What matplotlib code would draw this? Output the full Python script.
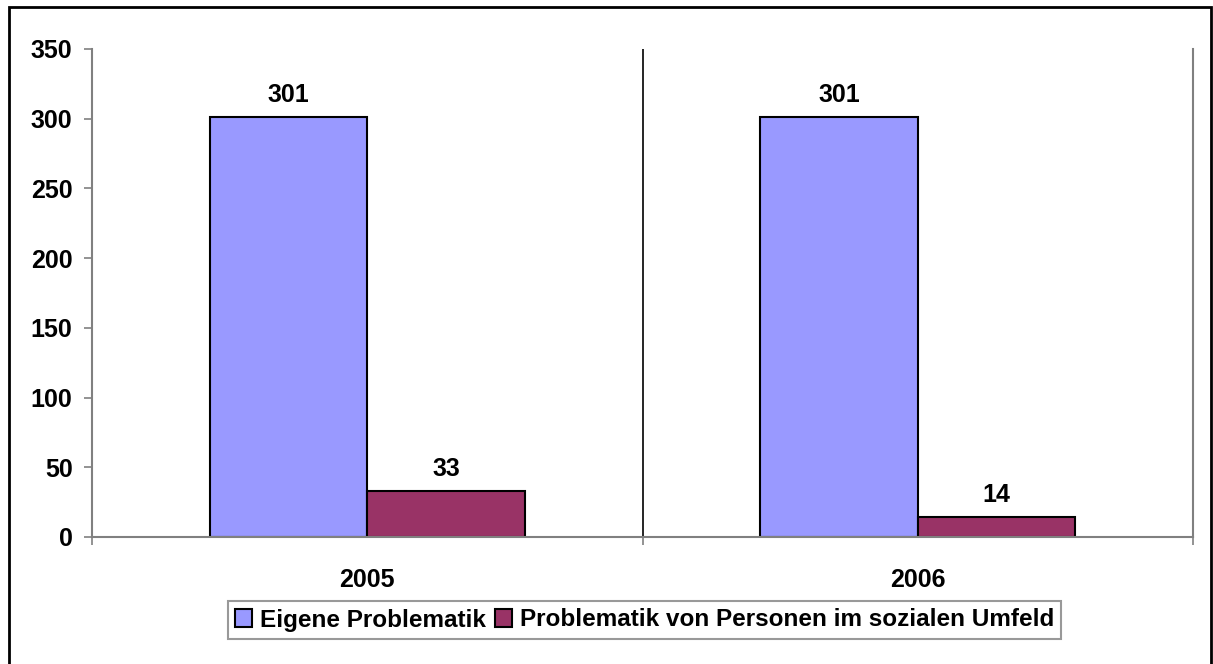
import numpy as np
import matplotlib.pyplot as plt
from matplotlib.patches import Rectangle

plt.rcParams['font.family'] = ['Liberation Sans', 'DejaVu Sans']
plt.rcParams['font.weight'] = 'bold'

# Daten
jahre = ['2005', '2006']
eigene = [301, 301]
umfeld = [33, 14]
serien = ['Eigene Problematik', 'Problematik von Personen im sozialen Umfeld']
farben = ['#9999FF', '#993366']

fig = plt.figure(figsize=(12.13, 6.64), dpi=100)
ax = fig.add_axes([92 / 1213, 1 - 537 / 664, (1193 - 92) / 1213, (537 - 49) / 664])

x = np.arange(len(jahre))
w = 0.286
b1 = ax.bar(x - w / 2, eigene, w, color=farben[0], edgecolor='black', linewidth=1.5, label=serien[0])
b2 = ax.bar(x + w / 2, umfeld, w, color=farben[1], edgecolor='black', linewidth=1.5, label=serien[1])

for bars in (b1, b2):
    for r in bars:
        ax.annotate(str(int(r.get_height())), (r.get_x() + r.get_width() / 2, r.get_height()),
                    xytext=(0, 10), textcoords='offset pixels', ha='center', va='bottom',
                    fontsize=18, fontweight='bold')

ax.set_xlim(-0.5, 1.5)
ax.set_ylim(0, 350)
ax.set_yticks(np.arange(0, 351, 50))
ax.set_xticks(x)
ax.set_xticklabels(jahre)
ax.set_xticks([-0.5, 0.5, 1.5], minor=True)
ax.tick_params(axis='x', which='major', length=0, pad=22, labelsize=18)
ax.tick_params(axis='x', which='minor', length=6, color='#808080', width=1.2)
ax.tick_params(axis='y', length=6, color='#808080', width=1.2, pad=8, labelsize=18)

ax.axvline(0.5, color='black', linewidth=1.2)
ax.spines['top'].set_visible(False)
for s in ('left', 'bottom', 'right'):
    ax.spines[s].set_color('#808080')
    ax.spines[s].set_linewidth(1.5)

leg = fig.legend(loc='center', bbox_to_anchor=(644.5 / 1213, 1 - 620 / 664), ncol=2,
                 fontsize=17.5, frameon=True, fancybox=False, edgecolor='#808080',
                 handlelength=0.7, handleheight=0.7, handletextpad=0.3,
                 columnspacing=0.4, borderpad=0.3, borderaxespad=0)
leg.get_frame().set_linewidth(1.5)

fig.patches.append(Rectangle((9 / 1213, -0.05), (1211 - 9) / 1213, 1 - 7 / 664 + 0.05,
                             transform=fig.transFigure, fill=False, edgecolor='black', linewidth=2))

fig.savefig('out.png', dpi=100)
